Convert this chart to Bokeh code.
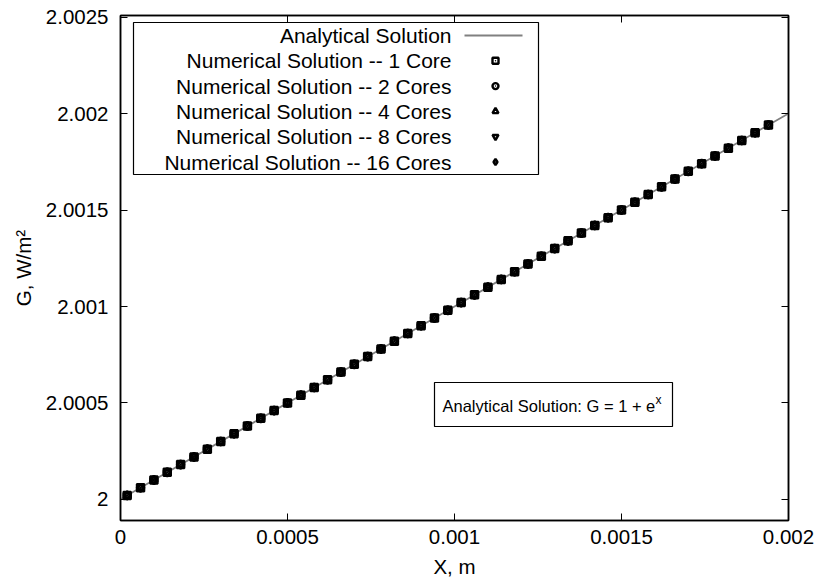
from bokeh.plotting import figure
from bokeh.models import Range1d, LinearAxis, FixedTicker
from bokeh.embed import file_html
from bokeh.resources import INLINE
from bokeh.core.properties import value

FONT = "Liberation Sans"

# Analytical solution G = 1 + e^x
x_exact = [0.0, 0.0005, 0.001, 0.0015, 0.002]
g_exact = [2.0, 2.0005001, 2.0010005, 2.0015011, 2.0020020]

# Numerical solution at cell centres (identical for every core count)
x_num = [
    0.00002, 0.00006, 0.00010, 0.00014, 0.00018, 0.00022, 0.00026,
    0.00030, 0.00034, 0.00038, 0.00042, 0.00046, 0.00050, 0.00054,
    0.00058, 0.00062, 0.00066, 0.00070, 0.00074, 0.00078, 0.00082,
    0.00086, 0.00090, 0.00094, 0.00098, 0.00102, 0.00106, 0.00110,
    0.00114, 0.00118, 0.00122, 0.00126, 0.00130, 0.00134, 0.00138,
    0.00142, 0.00146, 0.00150, 0.00154, 0.00158, 0.00162, 0.00166,
    0.00170, 0.00174, 0.00178, 0.00182, 0.00186, 0.00190, 0.00194,
]
g_num = [
    2.0000200, 2.0000600, 2.0001000, 2.0001400, 2.0001800, 2.0002200, 2.0002600,
    2.0003000, 2.0003401, 2.0003801, 2.0004201, 2.0004601, 2.0005001, 2.0005401,
    2.0005802, 2.0006202, 2.0006602, 2.0007002, 2.0007403, 2.0007803, 2.0008203,
    2.0008604, 2.0009004, 2.0009404, 2.0009805, 2.0010205, 2.0010606, 2.0011006,
    2.0011406, 2.0011807, 2.0012207, 2.0012608, 2.0013008, 2.0013409, 2.0013810,
    2.0014210, 2.0014611, 2.0015011, 2.0015412, 2.0015812, 2.0016213, 2.0016614,
    2.0017014, 2.0017415, 2.0017816, 2.0018217, 2.0018617, 2.0019018, 2.0019419,
]

core_counts = [1, 2, 4, 8, 16]
core_labels = [
    "Numerical Solution -- 1 Core",
    "Numerical Solution -- 2 Cores",
    "Numerical Solution -- 4 Cores",
    "Numerical Solution -- 8 Cores",
    "Numerical Solution -- 16 Cores",
]
exact_label = "Analytical Solution"

x_ticks = [0.0, 0.0005, 0.001, 0.0015, 0.002]
x_tick_labels = ["0", "0.0005", "0.001", "0.0015", "0.002"]
y_ticks = [2.0, 2.0005, 2.001, 2.0015, 2.002, 2.0025]
y_tick_labels = ["2", "2.0005", "2.001", "2.0015", "2.002", "2.0025"]

# ---- styling / layout ----
core_markers = ["square_dot", "circle_dot", "triangle", "inverted_triangle", "diamond_dot"]
LINE_GREY = "#808080"
TICK_FONT = "20.5px"
KEY_FONT = "21px"

W, H = 818, 584
B_LEFT, B_RIGHT, B_TOP, B_BOTTOM = 120, 30, 15, 64
FRAME_W = W - B_LEFT - B_RIGHT
FRAME_H = H - B_TOP - B_BOTTOM

p = figure(
    width=W, height=H,
    x_range=Range1d(0.0, 0.002), y_range=Range1d(1.99989, 2.00251),
    output_backend="svg", toolbar_location=None,
    min_border_left=B_LEFT, min_border_right=B_RIGHT,
    min_border_top=B_TOP, min_border_bottom=B_BOTTOM,
)
p.background_fill_color = "white"
p.border_fill_color = "white"
p.outline_line_color = "black"
p.outline_line_width = 1.5
p.xgrid.visible = False
p.ygrid.visible = False

# pixel-like ranges spanning the frame, for the key and the note box
p.extra_x_ranges = {"fx": Range1d(0, FRAME_W)}
p.extra_y_ranges = {"fy": Range1d(FRAME_H, 0)}


def style_axis(ax, ticks, labels, show_labels=True):
    ax.ticker = FixedTicker(ticks=ticks)
    ax.major_tick_in = 7
    ax.major_tick_out = 0
    ax.minor_tick_line_color = None
    ax.major_tick_line_color = "black"
    ax.major_tick_line_width = 1
    ax.axis_line_color = "black"
    ax.axis_line_width = 1.5
    if show_labels:
        ax.major_label_overrides = dict(zip(ticks, labels))
        ax.major_label_text_font = FONT
        ax.major_label_text_font_size = TICK_FONT
        ax.major_label_text_color = "black"
        ax.axis_label_text_font = FONT
        ax.axis_label_text_font_size = TICK_FONT
        ax.axis_label_text_font_style = "normal"
        ax.axis_label_text_color = "black"
    else:
        ax.major_label_overrides = {t: "" for t in ticks}
        ax.major_label_text_font_size = "0px"
        ax.major_label_standoff = 0
        ax.axis_label = None


xa = p.xaxis[0]
ya = p.yaxis[0]
style_axis(xa, x_ticks, x_tick_labels)
style_axis(ya, y_ticks, y_tick_labels)
xa.axis_label = "X, m"
ya.axis_label = "G, W/m²"
xa.major_label_standoff = 9
xa.axis_label_standoff = 8
ya.major_label_standoff = 12
ya.axis_label_standoff = 8

top_axis = LinearAxis()
right_axis = LinearAxis()
style_axis(top_axis, x_ticks, x_tick_labels, show_labels=False)
style_axis(right_axis, y_ticks, y_tick_labels, show_labels=False)
p.add_layout(top_axis, "above")
p.add_layout(right_axis, "right")

# ---- data ----
p.line(x_exact, g_exact, line_color=LINE_GREY, line_width=1.8)
for mk in core_markers:
    p.scatter(x_num, g_num, marker=mk, size=7.5, fill_color=None,
              line_color="black", line_width=2)

# ---- key (right-aligned labels, samples on the right) ----
KEY_L, KEY_R, KEY_T, KEY_B = 13, 418, 7, 159
ROW0, ROW_STEP = 20, 25.3
TEXT_R, SAMPLE_X, LINE_L, LINE_R = 331, 375, 344, 402

p.quad(left=[KEY_L], right=[KEY_R], top=[KEY_T], bottom=[KEY_B],
       fill_color="white", line_color="black", line_width=1.2,
       x_range_name="fx", y_range_name="fy")

row_y = [ROW0 + ROW_STEP * k for k in range(len(core_labels) + 1)]
p.text(x=[TEXT_R] * len(row_y), y=row_y, text=[exact_label] + core_labels,
       text_align="right", text_baseline="middle",
       text_font=value(FONT), text_font_size=KEY_FONT, text_color="black",
       x_range_name="fx", y_range_name="fy")
p.segment(x0=[LINE_L], y0=[row_y[0]], x1=[LINE_R], y1=[row_y[0]],
          line_color=LINE_GREY, line_width=1.8,
          x_range_name="fx", y_range_name="fy")
for mk, yy in zip(core_markers, row_y[1:]):
    p.scatter([SAMPLE_X], [yy], marker=mk, size=6, fill_color=None,
              line_color="black", line_width=2.4,
              x_range_name="fx", y_range_name="fy")

# ---- note box ----
NOTE_L, NOTE_R, NOTE_T, NOTE_B = 314, 552, 367, 411
p.quad(left=[NOTE_L], right=[NOTE_R], top=[NOTE_T], bottom=[NOTE_B],
       fill_color="white", line_color="black", line_width=1.2,
       x_range_name="fx", y_range_name="fy")
p.text(x=[NOTE_L + 8], y=[(NOTE_T + NOTE_B) / 2 + 1], text=["Analytical Solution: G = 1 + e"],
       text_align="left", text_baseline="middle",
       text_font=value(FONT), text_font_size="16.5px", text_color="black",
       x_range_name="fx", y_range_name="fy")
p.text(x=[NOTE_L + 221], y=[(NOTE_T + NOTE_B) / 2 - 5], text=["x"],
       text_align="left", text_baseline="middle",
       text_font=value(FONT), text_font_size="12px", text_color="black",
       x_range_name="fx", y_range_name="fy")

open("out.html", "w").write(file_html(p, INLINE))
